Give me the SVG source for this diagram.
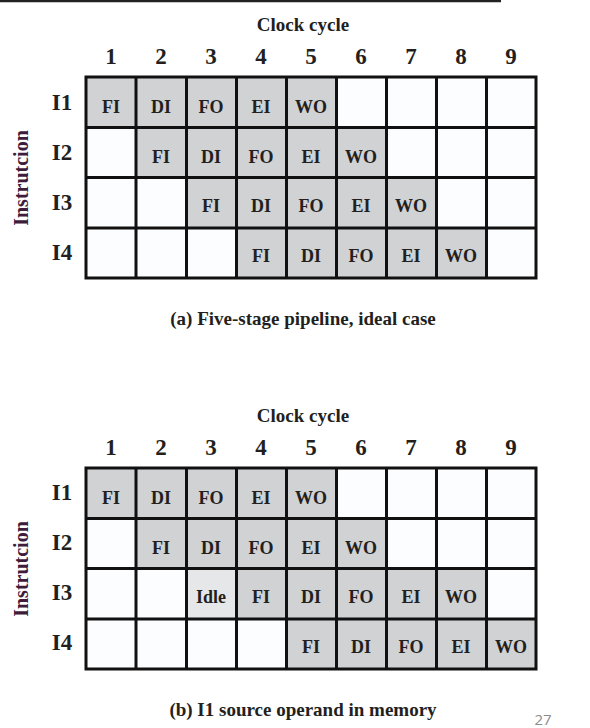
<svg xmlns="http://www.w3.org/2000/svg" width="590" height="728" viewBox="0 0 590 728">
<style>
text{font-family:"Liberation Serif","Times New Roman",serif;font-weight:bold;fill:#231f20;text-anchor:middle}
.title{font-size:19px}
.num{font-size:23px}
.row{font-size:23px}
.axis{font-size:20px;fill:#3d1c3c}
.cell{font-size:18px}
.cap{font-size:19px}
.g{fill:#d0d2d4}
.w{fill:#fcfdff}
.idle{fill:#e6e7e8}
.grid{stroke:#111;stroke-width:3;fill:none}
.pg{font-family:"Open Sans","Liberation Sans",sans-serif;font-weight:normal;font-size:15px;fill:#8c8c8c}
</style>
<line x1="0" y1="1" x2="501" y2="1" stroke="#222" stroke-width="2.5"/>

<g id="chartA">
<text class="title" x="303" y="31">Clock cycle</text>
<g class="num">
<text x="111" y="64">1</text><text x="161" y="64">2</text><text x="211" y="64">3</text><text x="261" y="64">4</text><text x="311" y="64">5</text><text x="361" y="64">6</text><text x="411" y="64">7</text><text x="461" y="64">8</text><text x="511" y="64">9</text>
</g>
<g class="row">
<text x="62" y="110">I1</text><text x="62" y="160">I2</text><text x="62" y="210">I3</text><text x="62" y="260">I4</text>
</g>
<text class="axis" transform="translate(28,178) rotate(-90)">Instrutcion</text>
<g id="cellsA">
<rect class="w" x="86" y="77" width="450" height="201"/>
<rect class="g" x="86" y="77" width="250" height="50"/>
<rect class="g" x="136" y="127" width="250" height="51"/>
<rect class="g" x="186" y="178" width="250" height="50"/>
<rect class="g" x="236" y="228" width="250" height="50"/>
</g>
<path class="grid" d="M86 77H536V278H86Z M86 127.5H536 M86 177.5H536 M86 228H536 M136 77V278 M186.5 77V278 M236.5 77V278 M286.5 77V278 M336.5 77V278 M386.5 77V278 M436.5 77V278 M486.5 77V278"/>
<g class="cell">
<text x="111" y="113">FI</text><text x="161" y="113">DI</text><text x="211" y="113">FO</text><text x="261" y="113">EI</text><text x="311" y="113">WO</text>
<text x="161" y="163">FI</text><text x="211" y="163">DI</text><text x="261" y="163">FO</text><text x="311" y="163">EI</text><text x="361" y="163">WO</text>
<text x="211" y="212">FI</text><text x="261" y="212">DI</text><text x="311" y="212">FO</text><text x="361" y="212">EI</text><text x="411" y="212">WO</text>
<text x="261" y="262">FI</text><text x="311" y="262">DI</text><text x="361" y="262">FO</text><text x="411" y="262">EI</text><text x="461" y="262">WO</text>
</g>
<text class="cap" x="303" y="325">(a) Five-stage pipeline, ideal case</text>
</g>

<g id="chartB">
<text class="title" x="303" y="422">Clock cycle</text>
<g class="num">
<text x="111" y="455">1</text><text x="161" y="455">2</text><text x="211" y="455">3</text><text x="261" y="455">4</text><text x="311" y="455">5</text><text x="361" y="455">6</text><text x="411" y="455">7</text><text x="461" y="455">8</text><text x="511" y="455">9</text>
</g>
<g class="row">
<text x="62" y="500">I1</text><text x="62" y="550">I2</text><text x="62" y="600">I3</text><text x="62" y="650">I4</text>
</g>
<text class="axis" transform="translate(28,569) rotate(-90)">Instrutcion</text>
<g id="cellsB">
<rect class="w" x="86" y="468" width="450" height="201"/>
<rect class="g" x="86" y="468" width="250" height="50"/>
<rect class="g" x="136" y="518" width="250" height="51"/>
<rect class="idle" x="186" y="569" width="50" height="50"/>
<rect class="g" x="236" y="569" width="250" height="50"/>
<rect class="g" x="286" y="619" width="250" height="50"/>
</g>
<path class="grid" d="M86 468H536V669H86Z M86 518.5H536 M86 568.5H536 M86 619H536 M136 468V669 M186.5 468V669 M236.5 468V669 M286.5 468V669 M336.5 468V669 M386.5 468V669 M436.5 468V669 M486.5 468V669"/>
<g class="cell">
<text x="111" y="504">FI</text><text x="161" y="504">DI</text><text x="211" y="504">FO</text><text x="261" y="504">EI</text><text x="311" y="504">WO</text>
<text x="161" y="554">FI</text><text x="211" y="554">DI</text><text x="261" y="554">FO</text><text x="311" y="554">EI</text><text x="361" y="554">WO</text>
<text x="211" y="603">Idle</text><text x="261" y="603">FI</text><text x="311" y="603">DI</text><text x="361" y="603">FO</text><text x="411" y="603">EI</text><text x="461" y="603">WO</text>
<text x="311" y="653">FI</text><text x="361" y="653">DI</text><text x="411" y="653">FO</text><text x="461" y="653">EI</text><text x="511" y="653">WO</text>
</g>
<text class="cap" x="303" y="716">(b) I1 source operand in memory</text>
</g>
<text class="pg" x="543" y="725">27</text>
</svg>
